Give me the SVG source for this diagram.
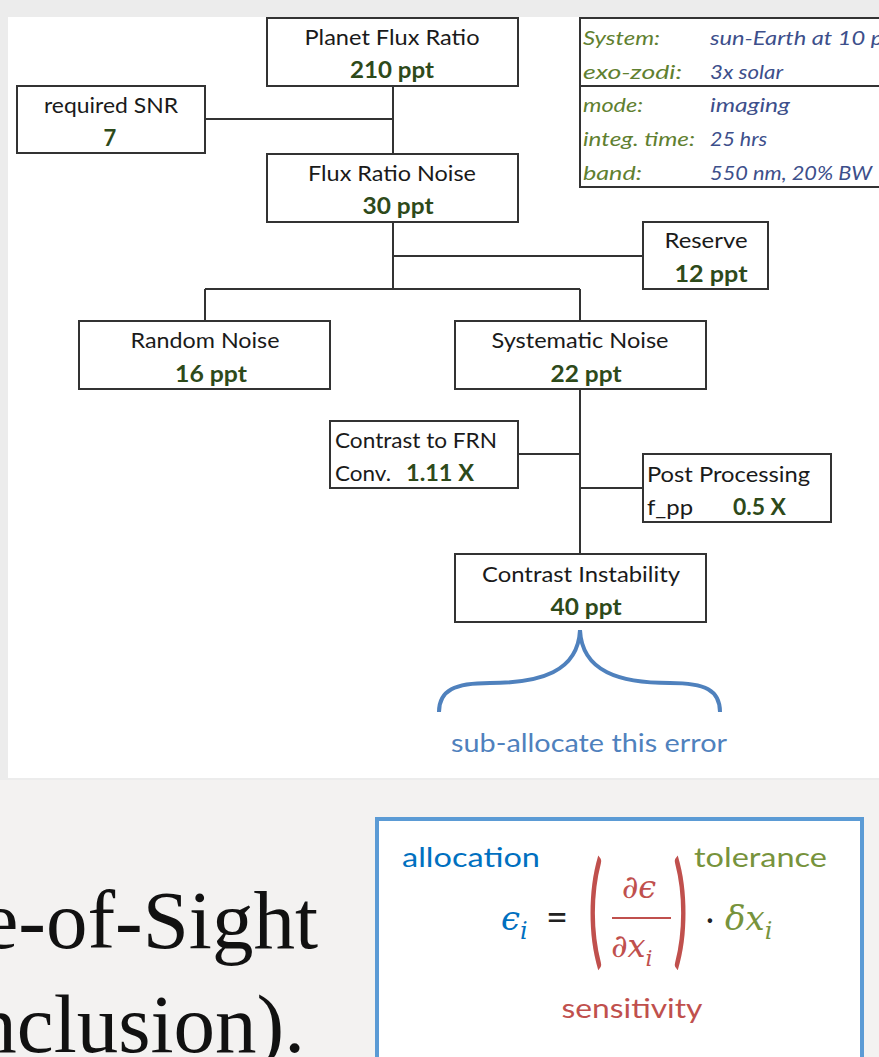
<svg xmlns="http://www.w3.org/2000/svg" width="879" height="1057" viewBox="0 0 879 1057">
<style>
.box{fill:#ffffff;stroke:#333333;stroke-width:2}
.conn{stroke:#333333;stroke-width:2;fill:none}
text{font-family:Lato,"Liberation Sans",sans-serif}
.t{font-size:22px;fill:#1a1a1a;text-anchor:middle}
.v{font-size:22px;font-weight:bold;fill:#2e4a1a;text-anchor:middle}
.tl{font-size:22px;fill:#1a1a1a}
.vl{font-size:22px;font-weight:bold;fill:#2e4a1a}
.il{font-size:20px;font-style:italic;fill:#5f8030}
.iv{font-size:20px;font-style:italic;fill:#3d4f8b}
.m{font-family:"DejaVu Serif","Liberation Serif",serif;font-style:italic}
.big{font-family:"Liberation Serif",serif;font-size:83px;fill:#111111}
.lab{font-size:27px}
</style>
<rect x="0" y="0" width="879" height="1057" fill="#f3f2f1"/>
<rect x="0" y="0" width="879" height="780" fill="#ececec"/>
<rect x="8" y="17" width="871" height="761" fill="#ffffff"/>

<g id="connectors">
<line class="conn" x1="393" y1="86" x2="393" y2="154"/>
<line class="conn" x1="205" y1="119" x2="393" y2="119"/>
<line class="conn" x1="393" y1="222" x2="393" y2="289"/>
<line class="conn" x1="393" y1="256" x2="643" y2="256"/>
<line class="conn" x1="205" y1="289" x2="580" y2="289"/>
<line class="conn" x1="205" y1="289" x2="205" y2="321"/>
<line class="conn" x1="580" y1="289" x2="580" y2="321"/>
<line class="conn" x1="580" y1="389" x2="580" y2="554"/>
<line class="conn" x1="518" y1="454" x2="580" y2="454"/>
<line class="conn" x1="580" y1="488" x2="643" y2="488"/>
</g>

<g id="planet-flux-ratio">
<rect class="box" x="267" y="18" width="251" height="68"/>
<text class="t" x="392" y="45" textLength="175" lengthAdjust="spacingAndGlyphs">Planet Flux Ratio</text>
<text class="v" x="392" y="78" textLength="84" lengthAdjust="spacingAndGlyphs">210 ppt</text>
</g>
<g id="required-snr">
<rect class="box" x="17" y="86" width="188" height="67"/>
<text class="t" x="111" y="113" textLength="134" lengthAdjust="spacingAndGlyphs">required SNR</text>
<text class="v" x="110" y="146">7</text>
</g>
<g id="flux-ratio-noise">
<rect class="box" x="267" y="154" width="251" height="68"/>
<text class="t" x="392" y="181" textLength="168" lengthAdjust="spacingAndGlyphs">Flux Ratio Noise</text>
<text class="v" x="398" y="214" textLength="71" lengthAdjust="spacingAndGlyphs">30 ppt</text>
</g>
<g id="info">
<rect class="box" x="580" y="18" width="310" height="169"/>
<line class="conn" x1="580" y1="86" x2="879" y2="86"/>
<text class="il" x="583" y="45" textLength="77" lengthAdjust="spacingAndGlyphs">System:</text>
<text class="iv" x="710" y="45" textLength="184" lengthAdjust="spacingAndGlyphs">sun-Earth at 10 pc</text>
<text class="il" x="583" y="79" textLength="99" lengthAdjust="spacingAndGlyphs">exo-zodi:</text>
<text class="iv" x="710" y="79" textLength="73" lengthAdjust="spacingAndGlyphs">3x solar</text>
<text class="il" x="583" y="112" textLength="60" lengthAdjust="spacingAndGlyphs">mode:</text>
<text class="iv" x="710" y="112" textLength="80" lengthAdjust="spacingAndGlyphs">imaging</text>
<text class="il" x="583" y="146" textLength="112" lengthAdjust="spacingAndGlyphs">integ. time:</text>
<text class="iv" x="710" y="146" textLength="57" lengthAdjust="spacingAndGlyphs">25 hrs</text>
<text class="il" x="583" y="180" textLength="59" lengthAdjust="spacingAndGlyphs">band:</text>
<text class="iv" x="710" y="180" textLength="162" lengthAdjust="spacingAndGlyphs">550 nm, 20% BW</text>
</g>
<g id="reserve">
<rect class="box" x="643" y="222" width="125" height="67"/>
<text class="t" x="706" y="248" textLength="83" lengthAdjust="spacingAndGlyphs">Reserve</text>
<text class="v" x="711" y="282" textLength="73" lengthAdjust="spacingAndGlyphs">12 ppt</text>
</g>
<g id="random-noise">
<rect class="box" x="79" y="321" width="251" height="68"/>
<text class="t" x="205" y="348" textLength="149" lengthAdjust="spacingAndGlyphs">Random Noise</text>
<text class="v" x="211" y="382" textLength="72" lengthAdjust="spacingAndGlyphs">16 ppt</text>
</g>
<g id="systematic-noise">
<rect class="box" x="455" y="321" width="251" height="68"/>
<text class="t" x="580" y="348" textLength="177" lengthAdjust="spacingAndGlyphs">Systematic Noise</text>
<text class="v" x="586" y="382" textLength="71" lengthAdjust="spacingAndGlyphs">22 ppt</text>
</g>
<g id="contrast-to-frn">
<rect class="box" x="330" y="421" width="188" height="67"/>
<text class="tl" x="335" y="448" textLength="162" lengthAdjust="spacingAndGlyphs">Contrast to FRN</text>
<text class="tl" x="335" y="481" textLength="56" lengthAdjust="spacingAndGlyphs">Conv.</text>
<text class="vl" x="406" y="481" textLength="68" lengthAdjust="spacingAndGlyphs">1.11 X</text>
</g>
<g id="post-processing">
<rect class="box" x="643" y="454" width="188" height="68"/>
<text class="tl" x="647" y="482" textLength="163" lengthAdjust="spacingAndGlyphs">Post Processing</text>
<text class="tl" x="647" y="515" textLength="46" lengthAdjust="spacingAndGlyphs">f_pp</text>
<text class="vl" x="733" y="515" textLength="53" lengthAdjust="spacingAndGlyphs">0.5 X</text>
</g>
<g id="contrast-instability">
<rect class="box" x="455" y="554" width="251" height="68"/>
<text class="t" x="581" y="582" textLength="198" lengthAdjust="spacingAndGlyphs">Contrast Instability</text>
<text class="v" x="586" y="615" textLength="71" lengthAdjust="spacingAndGlyphs">40 ppt</text>
</g>

<g id="brace">
<path d="M439,712 C439,690 455,683 490,683 C540,683 578,672 580,630 C582,672 620,683 670,683 C705,683 720,690 720,712" fill="none" stroke="#4f81bd" stroke-width="4"/>
<text x="589" y="752" font-size="25" fill="#4f81bd" text-anchor="middle" textLength="276" lengthAdjust="spacingAndGlyphs">sub-allocate this error</text>
</g>

<text class="big" x="318" y="948" text-anchor="end">e-of-Sight</text>
<text class="big" x="305" y="1052" text-anchor="end">nclusion).</text>

<g id="formula">
<rect x="377" y="819" width="485" height="260" fill="#ffffff" stroke="#5b9bd5" stroke-width="4"/>
<text class="lab" x="402" y="867" fill="#0070c0" textLength="138" lengthAdjust="spacingAndGlyphs">allocation</text>
<text class="lab" x="694" y="867" fill="#77933c" textLength="133" lengthAdjust="spacingAndGlyphs">tolerance</text>
<text class="lab" x="632" y="1018" fill="#c0504d" text-anchor="middle" textLength="141" lengthAdjust="spacingAndGlyphs">sensitivity</text>
<text class="m" x="501" y="930" font-size="34" fill="#0070c0">ϵ<tspan font-size="24" dy="9">i</tspan></text>
<text x="546" y="931" font-family="'Liberation Serif',serif" font-size="38" fill="#222222">=</text>
<text x="0" y="0" font-family="'Liberation Serif',serif" font-size="125" fill="#c0504d" transform="translate(588,952) scale(0.45,1)">(</text>
<text class="m" x="639" y="898" font-size="32" fill="#c0504d" text-anchor="middle">∂ϵ</text>
<line x1="612" y1="918" x2="671" y2="918" stroke="#c0504d" stroke-width="2"/>
<text class="m" x="611" y="957" font-size="32" fill="#c0504d">∂x<tspan font-size="22" dy="9">i</tspan></text>
<text x="0" y="0" font-family="'Liberation Serif',serif" font-size="125" fill="#c0504d" transform="translate(673,952) scale(0.45,1)">)</text>
<text x="706" y="930" font-family="'Liberation Serif',serif" font-size="30" fill="#222222">·</text>
<text class="m" x="725" y="930" font-size="34" fill="#77933c">δx<tspan font-size="24" dy="9">i</tspan></text>
</g>
</svg>
